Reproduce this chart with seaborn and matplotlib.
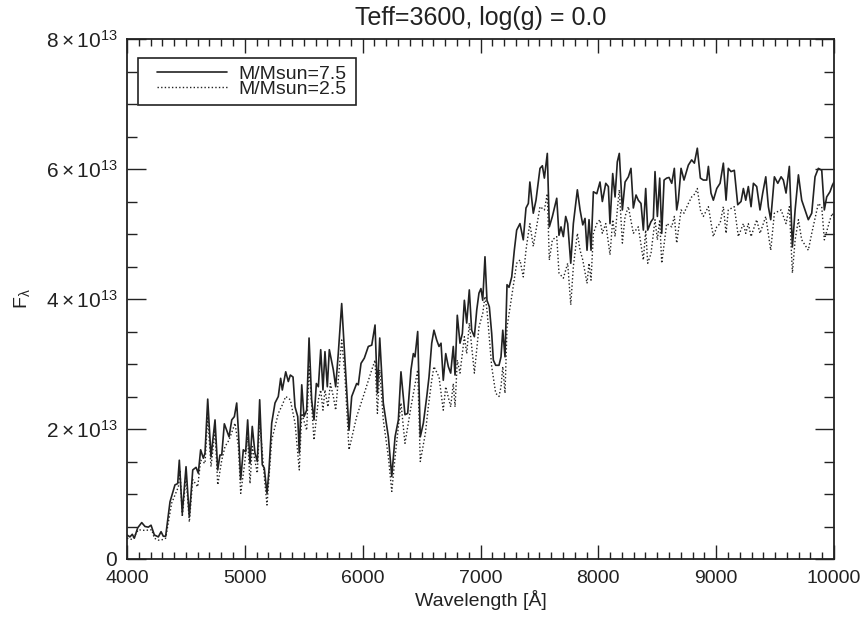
import matplotlib
matplotlib.use("Agg")
import matplotlib.pyplot as plt
from matplotlib.patches import Rectangle
from matplotlib.ticker import FixedLocator, MultipleLocator
import pandas as pd
import seaborn as sns

# Model spectra, Teff = 3600 K, log(g) = 0.0; flux in units of 1e13
wave_75 = [4000, 4025, 4045, 4062, 4091, 4125, 4153, 4181, 4204, 4232, 4266, 4289, 4308, 4328, 4365,
           4407, 4430, 4444, 4469, 4501, 4529, 4558, 4586, 4605, 4625, 4648, 4662, 4685, 4713, 4747,
           4770, 4789, 4804, 4826,
           4866, 4889, 4911, 4931, 4945, 4965, 4987, 5007, 5024, 5044, 5063, 5086, 5106, 5126, 5148,
           5165, 5188, 5205, 5228, 5256, 5284, 5304, 5318, 5347, 5369, 5386, 5409, 5426, 5449, 5462,
           5483, 5502, 5525, 5545, 5567, 5587, 5607, 5624, 5644, 5663, 5680, 5700, 5717,
           5751, 5771, 5793, 5822, 5850, 5884, 5907, 5949, 5963, 5986, 6014, 6048, 6077, 6105, 6125,
           6145, 6175, 6218, 6247, 6275, 6303, 6325, 6359, 6382, 6410, 6430, 6444, 6467, 6489, 6515, 6544,
           6563, 6586, 6605, 6628, 6648, 6665, 6684, 6705, 6727, 6747, 6769, 6784, 6803, 6826, 6846,
           6863, 6883, 6905, 6925, 6948, 6968, 6987, 7004, 7019, 7038, 7055, 7075, 7095, 7109, 7129,
           7157, 7174, 7189, 7208, 7225, 7242, 7265, 7287, 7307, 7335, 7363, 7386, 7406,
           7419, 7448, 7471, 7505, 7525, 7542, 7567, 7584, 7610, 7647, 7666, 7683, 7703, 7723, 7740,
           7766, 7788, 7822, 7845, 7868, 7887, 7904, 7921, 7938, 7958, 7987, 8014, 8034, 8063, 8085,
           8099, 8122, 8142, 8161, 8178, 8204, 8227, 8255,
           8277, 8297, 8320, 8339, 8362, 8382, 8402, 8419, 8447, 8467, 8481, 8501, 8521, 8538, 8558,
           8580, 8600, 8623, 8645, 8665, 8679, 8702, 8727, 8764, 8792, 8815, 8840, 8866, 8891, 8920,
           8934, 8956, 8976, 9005, 9033, 9061, 9084, 9103,
           9126, 9154, 9183, 9211, 9231, 9251, 9273, 9296, 9316, 9344, 9372, 9395, 9421, 9443, 9463,
           9494, 9523, 9551, 9570, 9593, 9621, 9647, 9670, 9698, 9726, 9754, 9782, 9811, 9839, 9867,
           9896, 9918, 9938, 9966, 9986, 10000]
flux_75 = [0.37, 0.34, 0.38, 0.32, 0.48, 0.56, 0.50, 0.49, 0.52, 0.37, 0.34, 0.42, 0.35, 0.35, 0.88,
           1.14, 1.16, 1.52, 0.70, 1.42, 0.65, 1.37, 1.41, 1.32, 1.68, 1.55, 1.63, 2.46, 1.57, 2.14,
           1.37, 1.60, 1.60, 2.08,
           1.88, 2.14, 2.19, 2.40, 1.98, 1.22, 1.68, 1.65, 2.14, 1.47, 2.04, 1.63, 1.50, 2.45, 1.45,
           1.40, 1.01, 1.37, 2.09, 2.40, 2.50, 2.78, 2.60, 2.88, 2.73, 2.83, 2.80, 2.34, 2.19, 1.63,
           2.68, 2.19, 2.29, 3.40, 2.45, 2.14, 2.70, 2.65, 3.22, 2.60, 3.19, 2.65, 3.22,
           2.91, 2.65, 3.16, 3.93, 3.06, 1.98, 2.50, 2.70, 2.68, 3.01, 3.09, 3.27, 3.29, 3.60, 2.55,
           3.40, 2.40, 1.88, 1.27, 1.88, 2.14, 2.88, 2.22, 2.24, 2.91, 3.16, 3.11, 3.50, 1.88, 2.09, 2.50,
           2.80, 3.32, 3.52, 3.37, 3.27, 3.32, 2.75, 3.16, 2.96, 2.86, 3.27, 2.83, 3.75, 3.32, 3.47,
           3.98, 3.63, 4.14, 3.52, 3.42, 3.83, 4.09, 4.16, 3.98, 4.65, 3.98, 3.88, 3.47, 3.06, 2.98,
           2.98, 3.11, 3.52, 3.11, 4.22, 4.18, 4.34, 4.75, 5.06, 5.16, 4.91, 5.40, 5.47,
           5.80, 5.32, 5.52, 6.01, 6.05, 5.86, 6.24, 5.11, 5.27, 5.55, 4.98, 5.11, 4.96, 5.27, 5.16,
           4.55, 5.16, 5.68, 5.37, 5.14, 5.24, 4.75, 5.22, 4.75, 5.65, 5.62, 5.80, 5.50, 5.78, 5.73,
           5.16, 5.93, 5.57, 6.11, 6.24, 5.37, 5.80, 5.88,
           6.01, 5.40, 5.60, 5.52, 5.47, 5.06, 5.70, 5.06, 5.19, 5.24, 5.96, 5.27, 5.86, 5.01, 5.83,
           5.86, 5.87, 5.78, 6.01, 5.37, 5.52, 6.01, 5.83, 6.06, 6.14, 6.09, 6.32, 5.86, 5.83, 5.83,
           6.04, 5.63, 5.52, 5.70, 5.78, 6.09, 5.52, 6.01,
           5.96, 5.98, 5.45, 5.50, 5.70, 5.52, 5.73, 5.42, 5.78, 5.73, 5.37, 5.63, 5.88, 5.42, 5.22,
           5.88, 5.78, 5.88, 5.83, 5.63, 6.04, 4.80, 5.37, 5.91, 5.52, 5.37, 5.22, 5.32, 5.88, 6.01,
           5.98, 5.37, 5.57, 5.65, 5.75, 5.80]

wave_25 = [4000, 4045, 4096, 4150, 4210, 4232, 4266, 4308, 4328, 4379, 4436, 4450, 4469, 4501, 4529,
           4558, 4600, 4625, 4662, 4685, 4713, 4747, 4770, 4804,
           4832, 4866, 4917, 4945, 4965, 4995, 5024, 5044, 5063, 5106, 5126, 5165, 5188, 5228, 5284,
           5318, 5347, 5386, 5426, 5462, 5483, 5525, 5545, 5587, 5624, 5644, 5663, 5680, 5705,
           5726, 5751, 5771, 5822, 5850, 5884, 5949, 6014, 6077, 6105, 6125, 6145, 6175, 6218, 6247,
           6275, 6325, 6359, 6410, 6467, 6489, 6532,
           6557, 6586, 6605, 6648, 6684, 6705, 6747, 6769, 6784, 6803, 6826, 6863, 6883, 6905, 6948,
           6987, 7019, 7038, 7055, 7095, 7129, 7157, 7174, 7189, 7208, 7225, 7265, 7307, 7335, 7363,
           7386, 7406,
           7419, 7448, 7505, 7542, 7567, 7584, 7610, 7647, 7666, 7703, 7740, 7766, 7788, 7822, 7845,
           7868, 7904, 7921, 7938, 7958, 7987, 8014, 8034, 8063, 8099, 8122, 8142, 8161, 8178, 8204,
           8227, 8255,
           8297, 8339, 8382, 8402, 8419, 8447, 8481, 8501, 8521, 8538, 8580, 8623, 8645, 8665, 8702,
           8727, 8764, 8792, 8821, 8840, 8866, 8891, 8934, 8976, 9005, 9033, 9061, 9084, 9103,
           9154, 9188, 9231, 9251, 9273, 9296, 9344, 9372, 9421, 9463, 9494, 9551, 9593, 9621, 9647,
           9670, 9698, 9726, 9782, 9811, 9867, 9896, 9918, 9966, 9986, 10000]
flux_25 = [0.32, 0.30, 0.45, 0.44, 0.45, 0.32, 0.29, 0.30, 0.32, 0.86, 1.11, 1.37, 0.65, 1.27, 0.57,
           1.22, 1.11, 1.52, 1.47, 2.19, 1.42, 1.98, 1.14, 1.52,
           1.73, 1.83, 2.09, 1.73, 1.01, 1.42, 1.88, 1.16, 1.73, 1.32, 2.14, 1.27, 0.83, 1.83, 2.24,
           2.37, 2.50, 2.45, 2.09, 1.37, 2.24, 1.98, 2.96, 1.83, 2.45, 2.60, 2.29, 2.60, 2.34,
           2.70, 2.50, 2.29, 3.37, 2.80, 1.68, 2.19, 2.55, 2.91, 3.06, 2.24, 2.91, 2.14, 1.57, 1.04,
           1.57, 2.40, 1.78, 2.34, 2.91, 1.50, 1.93,
           2.34, 2.75, 2.96, 2.80, 2.29, 2.65, 2.34, 2.70, 2.34, 3.06, 2.86, 3.42, 3.16, 3.63, 2.86,
           3.57, 3.78, 4.04, 3.83, 2.96, 2.55, 2.50, 2.65, 2.96, 2.55, 3.57, 4.04, 4.55, 4.60, 4.34,
           4.75, 5.01,
           5.16, 4.81, 5.42, 5.37, 5.62, 4.60, 4.91, 4.96, 4.40, 4.32, 4.55, 3.91, 4.50, 5.01, 4.75,
           4.60, 4.24, 4.55, 4.29, 5.01, 5.16, 5.22, 5.01, 5.16, 4.68, 5.22, 4.96, 5.37, 5.68, 4.86,
           5.27, 5.42,
           5.01, 5.11, 4.60, 5.06, 4.55, 4.70, 5.22, 4.91, 5.22, 4.55, 5.16, 5.11, 5.27, 4.86, 5.37,
           5.32, 5.47, 5.57, 5.62, 5.70, 5.37, 5.27, 5.42, 4.96, 5.11, 5.16, 5.42, 5.01, 5.37,
           5.42, 4.96, 5.16, 5.01, 5.16, 4.96, 5.22, 5.01, 5.27, 4.75, 5.32, 5.37, 5.16, 5.42, 4.40,
           4.91, 5.22, 4.91, 4.75, 5.01, 5.47, 5.42, 4.91, 5.22, 5.32, 5.25]

x_ticks = [4000, 5000, 6000, 7000, 8000, 9000, 10000]
y_ticks = [0, 2, 4, 6, 8]
y_tick_labels = ["0", r"$2\times10^{13}$", r"$4\times10^{13}$", r"$6\times10^{13}$", r"$8\times10^{13}$"]
labels = ["M/Msun=7.5", "M/Msun=2.5"]
title = "Teff=3600, log(g) = 0.0"

SCALE = 1e13
W, H = 861, 622

sns.set_style("ticks")
plt.rcParams["font.family"] = ["Liberation Sans", "DejaVu Sans"]
plt.rcParams["mathtext.fontset"] = "custom"
plt.rcParams["mathtext.rm"] = "Liberation Sans"
plt.rcParams["mathtext.it"] = "Liberation Sans"
plt.rcParams["mathtext.default"] = "regular"

ink = "#222222"
fs = 14

df_hi = pd.DataFrame({"wave": wave_75, "flux": [v * SCALE for v in flux_75]})
df_lo = pd.DataFrame({"wave": wave_25, "flux": [v * SCALE for v in flux_25]})

fig = plt.figure(figsize=(W / 100, H / 100), dpi=100)
# plot box: x 127..834 px, y 39..559 px (from top)
ax = fig.add_axes([127 / W, (H - 559) / H, 707 / W, 520 / H])

sns.lineplot(data=df_hi, x="wave", y="flux", ax=ax, color=ink, linewidth=1.2,
             linestyle="-", label=labels[0], estimator=None, sort=False)
sns.lineplot(data=df_lo, x="wave", y="flux", ax=ax, color=ink, linewidth=1.0,
             linestyle=(0, (1, 1.6)), label=labels[1], estimator=None, sort=False)

ax.set_xlim(4000, 10000)
ax.set_ylim(0, 8 * SCALE)

ax.xaxis.set_major_locator(FixedLocator(x_ticks))
ax.xaxis.set_minor_locator(MultipleLocator(100))
ax.yaxis.set_major_locator(FixedLocator([v * SCALE for v in y_ticks]))
ax.yaxis.set_minor_locator(MultipleLocator(0.5 * SCALE))
ax.set_xticklabels([str(t) for t in x_ticks])
ax.set_yticklabels(y_tick_labels)

ax.tick_params(which="both", direction="in", top=True, right=True, color=ink, labelcolor=ink)
ax.tick_params(axis="x", which="major", length=10, width=1.0, pad=8, labelsize=fs)
ax.tick_params(axis="x", which="minor", length=5, width=1.0)
ax.tick_params(axis="y", which="major", length=14, width=1.0, pad=7, labelsize=15)
ax.tick_params(axis="y", which="minor", length=7, width=1.0)

for sp in ax.spines.values():
    sp.set_color(ink)
    sp.set_linewidth(1.3)

ax.set_xlabel("Wavelength [Å]", fontsize=fs, color=ink, labelpad=2)
ax.set_ylabel(r"F$_{\lambda}$", fontsize=fs, color=ink)
ax.yaxis.set_label_coords(-0.135, 0.5)
ax.set_title(title, fontsize=18, color=ink, pad=10)

# legend entries without frame; the box is drawn separately with IDL-like padding
leg = ax.legend(loc="upper left", bbox_to_anchor=((157 - 127) / 707, (559 - 65) / 520),
                frameon=False, fontsize=fs, handlelength=3.6, handletextpad=0.6,
                labelspacing=-0.1, borderpad=0.0, borderaxespad=0.0)
for t in leg.get_texts():
    t.set_color(ink)

fig.canvas.draw()
bb = leg.get_window_extent(fig.canvas.get_renderer())
box_left, box_top, box_bottom = 138, 58, 105
box_right = bb.x1 + 9
ax.add_patch(Rectangle((box_left / W, (H - box_bottom) / H), (box_right - box_left) / W,
                       (box_bottom - box_top) / H, transform=fig.transFigure, fill=False,
                       edgecolor=ink, linewidth=1.2, clip_on=False, zorder=5))

fig.savefig("out.png", dpi=100)
